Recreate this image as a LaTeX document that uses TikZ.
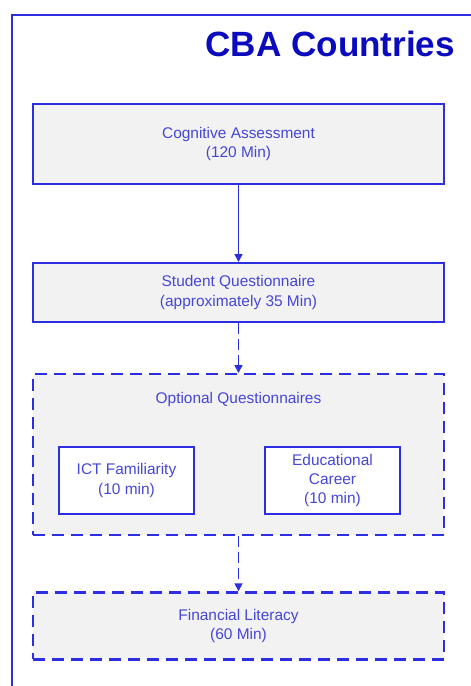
\documentclass[tikz,border=0pt]{standalone}
\usepackage{fontspec}
\setmainfont{Liberation Sans}
\usetikzlibrary{positioning,arrows.meta}

\definecolor{lineblue}{RGB}{45,45,225}
\definecolor{txtblue}{RGB}{70,70,215}
\definecolor{titleblue}{RGB}{10,10,190}
\definecolor{boxgray}{RGB}{242,242,242}

\begin{document}
\begin{tikzpicture}[
    x=1bp, y=-1bp,
    node distance=77bp,
    stage/.style={rectangle, draw=lineblue, fill=boxgray, line width=2bp,
                minimum width=411bp, align=center, text=txtblue,
                font=\fontsize{15.5}{19.5}\selectfont},
    optstage/.style={stage, dash pattern=on 12bp off 7bp, line width=2.3bp},
    module/.style={rectangle, draw=lineblue, fill=white, line width=2bp,
                minimum width=135bp, minimum height=67bp, align=center,
                text=txtblue, font=\fontsize{15.5}{19.5}\selectfont},
    flow/.style={-{Triangle[width=8bp,length=8bp]}, lineblue, line width=1.5bp},
    optflow/.style={flow, dash pattern=on 11bp off 5bp}
]
    \useasboundingbox (0,0) rectangle (471,686);
    % page frame, runs off to the right and bottom
    \draw[lineblue, line width=2bp] (12,690) -- (12,15) -- (476,15);
    \node[anchor=base east, text=titleblue,
          font=\fontsize{35.2}{40}\selectfont\bfseries] (title) at (458.5,57) {CBA Countries};

    \node[stage, minimum height=80bp] (cog) at (238.5,144) {Cognitive Assessment\\(120 Min)};
    \node[stage, minimum height=59bp, below=of cog] (stq) {Student Questionnaire\\(approximately 35 Min)};
    \node[optstage, minimum height=161bp, below=50bp of stq] (opt) {};
    \node[text=txtblue, font=\fontsize{15.5}{19.5}\selectfont]
        (optlbl) at ([yshift=-27bp]opt.north) {Optional Questionnaires};

    \node[module] (ict) at (126.5,480.5) {ICT Familiarity\\(10 min)};
    \node[module, right=69bp of ict] (career) {Educational\\Career\\(10 min)};

    \node[optstage, minimum height=67bp, below=55bp of opt] (fin) {Financial Literacy\\(60 Min)};

    \draw[flow] (cog) -- (stq);
    \draw[optflow] (stq) -- (opt);
    \draw[optflow] (opt) -- (fin);
\end{tikzpicture}
\end{document}
